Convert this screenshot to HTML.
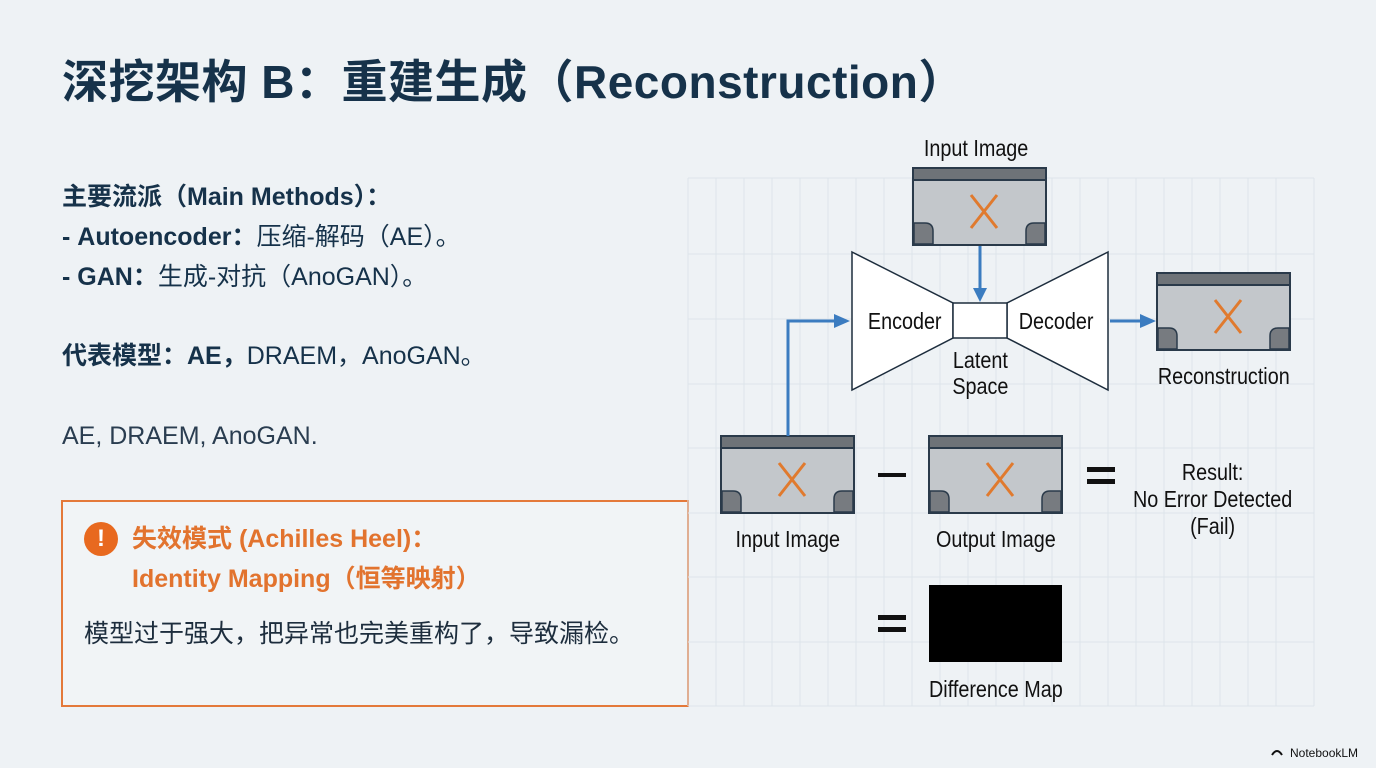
<!DOCTYPE html>
<html><head><meta charset="utf-8"><style>
body{margin:0;width:1376px;height:768px;background:#eef2f5;overflow:hidden;position:relative;font-family:"Liberation Sans","Noto Sans CJK SC",sans-serif;color:#16324a}
.a{position:absolute;white-space:nowrap}
</style></head><body>
<div class="a" style="left:62px;top:46px;font-size:46px;font-weight:bold;color:#16324a;letter-spacing:0.5px">深挖架构 B：重建生成（Reconstruction）</div>
<div class="a" style="left:62px;top:177px;font-size:25px;line-height:40px">
<b>主要流派（Main Methods）：</b><br>
<b>- Autoencoder：</b>压缩-解码（AE）。<br>
<b>- GAN：</b>生成-对抗（AnoGAN）。</div>
<div class="a" style="left:62px;top:336px;font-size:25px;line-height:40px"><b>代表模型：AE，</b>DRAEM，AnoGAN。</div>
<div class="a" style="left:62px;top:416px;font-size:25px;line-height:40px;color:#2a3d50">AE, DRAEM, AnoGAN.</div>
<div class="a" style="left:61px;top:500px;width:624px;height:203px;border:2px solid #e4793a;background:#f1f4f6"></div>
<div class="a" style="left:84px;top:522px;width:34px;height:34px;border-radius:50%;background:#e8691f;color:#fff;font-weight:bold;font-size:24px;text-align:center;line-height:34px">!</div>
<div class="a" style="left:132px;top:519px;font-size:25px;line-height:40px;font-weight:bold;color:#e2732e">失效模式 (Achilles Heel)：<br>Identity Mapping（恒等映射）</div>
<div class="a" style="left:84px;top:614px;font-size:25px;color:#1d2d3d">模型过于强大，把异常也完美重构了，导致漏检。</div>
<svg class="a" style="left:0;top:0" width="1376" height="768">
<defs>
<g id="img">
<rect x="0" y="0" width="133" height="77" fill="#c3c7cb" stroke="#2a3a4a" stroke-width="2"/>
<rect x="0" y="0" width="133" height="12" fill="#6e7378" stroke="#2a3a4a" stroke-width="2"/>
<path d="M1,76 V55 H12 Q20,55 20,63 V76 Z" fill="#777b80" stroke="#2a3a4a" stroke-width="1.5"/>
<path d="M132,76 V55 H121 Q113,55 113,63 V76 Z" fill="#777b80" stroke="#2a3a4a" stroke-width="1.5"/>
<path d="M58,27 L84,60 M84,27 L58,60" stroke="#e07a2e" stroke-width="3"/>
</g>
</defs>
<g stroke="#dde4ea" stroke-width="1">
<path d="M688,178H1314M688,254H1314M688,319H1314M688,384H1314M688,448H1314M688,513H1314M688,577H1314M688,642H1314M688,706H1314"/>
<path d="M688,178V706M716,178V706M744,178V706M772,178V706M800,178V706M828,178V706M856,178V706M884,178V706M912,178V706M940,178V706M968,178V706M996,178V706M1024,178V706M1052,178V706M1080,178V706M1108,178V706M1136,178V706M1164,178V706M1192,178V706M1220,178V706M1248,178V706M1276,178V706M1314,178V706"/>
</g>
<use href="#img" x="913" y="168"/>
<use href="#img" x="1157" y="273"/>
<use href="#img" x="721" y="436"/>
<use href="#img" x="929" y="436"/>
<rect x="929" y="585" width="133" height="77" fill="#000"/>
<polygon points="852,252 953,303 953,338 852,390" fill="#fff" stroke="#1d2d3d" stroke-width="1.5"/>
<polygon points="1108,252 1007,303 1007,338 1108,390" fill="#fff" stroke="#1d2d3d" stroke-width="1.5"/>
<rect x="953" y="303" width="54" height="35" fill="#fff" stroke="#1d2d3d" stroke-width="1.5"/>
<g stroke="#3b7cc0" stroke-width="3" fill="none">
<path d="M980,246V290"/><path d="M788,436V321H836"/><path d="M1110,321H1142"/>
</g>
<g fill="#3b7cc0">
<polygon points="973,288 987,288 980,302"/>
<polygon points="834,314 834,328 850,321"/>
<polygon points="1140,314 1140,328 1156,321"/>
</g>
<g fill="#111"><rect x="878" y="473" width="28" height="4"/><rect x="1087" y="467" width="28" height="5"/><rect x="1087" y="479" width="28" height="5"/><rect x="878" y="615" width="28" height="5"/><rect x="878" y="627" width="28" height="5"/></g>
<g font-family="Liberation Sans, sans-serif" font-size="23" fill="#111" text-anchor="middle" transform="scale(0.86,1)">
<text x="1135" y="156">Input Image</text>
<text x="1052" y="329">Encoder</text>
<text x="1228" y="329">Decoder</text>
<text x="1140" y="368">Latent</text>
<text x="1140" y="394">Space</text>
<text x="1423" y="384">Reconstruction</text>
<text x="916" y="547">Input Image</text>
<text x="1158" y="547">Output Image</text>
<text x="1410" y="480">Result:</text>
<text x="1410" y="507">No Error Detected</text>
<text x="1410" y="534">(Fail)</text>
<text x="1158" y="697">Difference Map</text>
</g>
<text x="1290" y="757" font-family="Liberation Sans, sans-serif" font-size="12" fill="#111">NotebookLM</text>
<path d="M1272,755 q5,-8 10,0" stroke="#111" stroke-width="2" fill="none"/>
</svg>
</body></html>
